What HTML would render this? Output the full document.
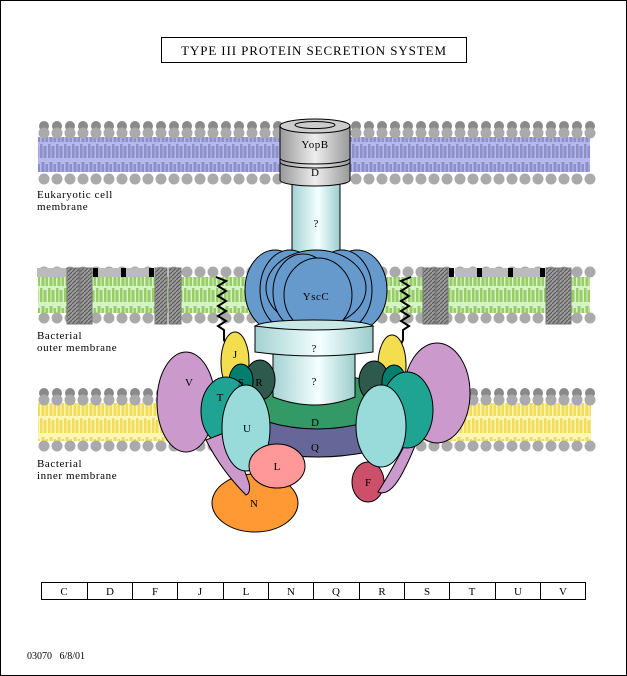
<!DOCTYPE html>
<html><head><style>
body{margin:0;background:#fff}
svg{display:block}
text{font-family:"Liberation Serif",serif;fill:#000}
</style></head><body>
<svg width="627" height="676" viewBox="0 0 627 676" xmlns="http://www.w3.org/2000/svg">
<defs>
<pattern id="lipP" x="0" y="0" width="8" height="36" patternUnits="userSpaceOnUse">
<rect width="8" height="36" fill="#b4b8ec"/>
<path d="M1 0v14M5 2v12M3 18v16M7 20v14" stroke="#8c90c8" stroke-width="3"/>
</pattern>
<pattern id="lipG" x="0" y="0" width="8" height="36" patternUnits="userSpaceOnUse">
<rect width="8" height="36" fill="#d4f4c8"/>
<path d="M1 0v14M5 2v12M3 18v16M7 20v14" stroke="#99cc66" stroke-width="3"/>
</pattern>
<pattern id="lipY" x="0" y="0" width="8" height="38" patternUnits="userSpaceOnUse">
<rect width="8" height="38" fill="#fdf6b4"/>
<path d="M1 0v15M5 2v13M3 19v17M7 21v15" stroke="#f2dc5c" stroke-width="3"/>
</pattern>
<pattern id="hatch" width="4" height="4" patternUnits="userSpaceOnUse">
<rect width="4" height="4" fill="#9a9a9a"/><path d="M0 4L4 0" stroke="#555" stroke-width="1"/>
</pattern>
<linearGradient id="cyl" x1="0" x2="1"><stop offset="0" stop-color="#a4d2d2"/><stop offset="0.55" stop-color="#f4ffff"/><stop offset="1" stop-color="#9ccccc"/></linearGradient>
<linearGradient id="gcyl" x1="0" x2="1"><stop offset="0" stop-color="#999"/><stop offset="0.5" stop-color="#eee"/><stop offset="1" stop-color="#999"/></linearGradient>
</defs>
<rect x="0.5" y="0.5" width="626" height="675" fill="#fff" stroke="#000"/>
<rect x="161.5" y="37.5" width="305" height="25" fill="#fff" stroke="#000"/>
<text x="314" y="55" font-size="13" text-anchor="middle" letter-spacing="0.9">TYPE III PROTEIN SECRETION SYSTEM</text>

<rect x="38" y="137" width="552" height="35" fill="url(#lipP)"/>
<rect x="38" y="277" width="552" height="36" fill="url(#lipG)"/>
<rect x="38" y="403" width="553" height="38" fill="url(#lipY)"/>
<g id="headrows"></g>
<script>
(function(){
var ns="http://www.w3.org/2000/svg",g=document.getElementById("headrows");
function row(y,col,x0,x1,r){for(var x=x0;x<=x1;x+=13){var c=document.createElementNS(ns,"circle");c.setAttribute("cx",x);c.setAttribute("cy",y);c.setAttribute("r",r);c.setAttribute("fill",col);g.appendChild(c);}}
row(126,"#8a8a8a",44,590,5);row(133,"#aaa",44,590,5.5);row(179,"#aaa",44,590,5.5);
row(318,"#aaa",44,590,5.5);row(272,"#aaa",44,590,5.5);
row(393,"#8a8a8a",44,591,5);row(400,"#aaa",44,591,5.5);row(446,"#aaa",44,591,5.5);
})();
</script>
<g fill="#bbb"><rect x="37" y="268" width="30" height="9"/><rect x="98" y="268" width="55" height="9"/><rect x="455" y="268" width="90" height="9"/></g>
<g fill="#000"><rect x="93" y="268" width="5" height="9"/><rect x="121" y="268" width="5" height="9"/><rect x="149" y="268" width="5" height="9"/><rect x="449" y="268" width="5" height="9"/><rect x="477" y="268" width="5" height="9"/><rect x="508" y="268" width="5" height="9"/><rect x="540" y="268" width="5" height="9"/></g>
<g fill="url(#hatch)" stroke="#777"><rect x="67" y="268" width="12" height="56"/><rect x="80" y="268" width="12" height="56"/><rect x="155" y="268" width="12" height="56"/><rect x="169" y="268" width="12" height="56"/><rect x="423" y="268" width="12" height="56"/><rect x="436" y="268" width="12" height="56"/><rect x="546" y="268" width="12" height="56"/><rect x="559" y="268" width="12" height="56"/></g>

<g font-size="11" letter-spacing="0.6">
<text x="37" y="198">Eukaryotic cell</text><text x="37" y="210">membrane</text>
<text x="37" y="339">Bacterial</text><text x="37" y="351">outer membrane</text>
<text x="37" y="467">Bacterial</text><text x="37" y="479">inner membrane</text>
</g>

<path d="M216 277l10 4-8 5 8 5-8 5 8 5-8 5 8 5-8 5 8 5-8 5 6 4v10l4 8" fill="none" stroke="#000" stroke-width="2"/>
<path d="M411 277l-10 4 8 5-8 5 8 5-8 5 8 5-8 5 8 5-8 5 8 5-6 4v10l-4 8" fill="none" stroke="#000" stroke-width="2"/>

<rect x="292" y="180" width="48" height="90" fill="url(#cyl)" stroke="#000"/>
<text x="316" y="227" font-size="11" text-anchor="middle">?</text>
<path d="M280 126v54a35 6 0 0 0 70 0v-54" fill="url(#gcyl)" stroke="#000"/>
<path d="M280 158a35 6 0 0 0 70 0M280 162a35 6 0 0 0 70 0" fill="none" stroke="#000"/>
<ellipse cx="315" cy="126" rx="35" ry="7" fill="#ccc" stroke="#000"/>
<ellipse cx="315" cy="125" rx="20" ry="3.5" fill="none" stroke="#000"/>
<text x="315" y="148" font-size="11" text-anchor="middle" letter-spacing="0.5">YopB</text>
<text x="315" y="176" font-size="11" text-anchor="middle">D</text>

<g fill="#6699cc" stroke="#000">
<ellipse cx="275" cy="290" rx="30" ry="40"/>
<ellipse cx="357" cy="290" rx="30" ry="40"/>
<ellipse cx="290" cy="290" rx="30" ry="40"/>
<ellipse cx="342" cy="290" rx="30" ry="40"/>
<ellipse cx="316" cy="288" rx="50" ry="38"/>
<ellipse cx="303" cy="292" rx="30" ry="38"/>
<ellipse cx="318" cy="295" rx="34" ry="37"/>
</g>
<text x="316" y="300" font-size="11" text-anchor="middle" letter-spacing="0.5">YscC</text>

<path d="M258 383q57 -20 116 0v40q-58 15 -116 0z" fill="#339966" stroke="#000"/>
<path d="M268 422q48 14 100 0v30q-50 10 -100 0z" fill="#666699" stroke="#000"/>
<text x="315" y="426" font-size="11" text-anchor="middle">D</text>
<text x="315" y="451" font-size="11" text-anchor="middle">Q</text>
<path d="M273 350v47q42 16 82 0v-47z" fill="url(#cyl)" stroke="#000"/>
<path d="M255 326v26q60 8 118 0v-26z" fill="url(#cyl)" stroke="#000"/>
<path d="M255 326q10 -6 59 -6q49 0 59 6q-59 8 -118 0z" fill="#c8e8e8" stroke="#000"/>
<text x="314" y="352" font-size="11" text-anchor="middle">?</text>
<text x="314" y="385" font-size="11" text-anchor="middle">?</text>

<g stroke="#000">
<ellipse cx="235" cy="362" rx="14" ry="30" fill="#f5dd50"/>
<ellipse cx="260" cy="380" rx="15" ry="20" fill="#2e5a4e"/>
<ellipse cx="241" cy="381" rx="12" ry="17" fill="#007f6e"/>
<ellipse cx="186" cy="402" rx="29" ry="50" fill="#cc99cc"/>
<ellipse cx="226" cy="411" rx="25" ry="34" fill="#1fa393"/>
<ellipse cx="255" cy="503" rx="43" ry="29" fill="#ff9933"/>
<path d="M206 440q15 30 40 55q5 -2 3 -12q-10 -30 -25 -50z" fill="#cc99cc"/>
<ellipse cx="246" cy="428" rx="24" ry="43" fill="#99dada"/>
<ellipse cx="277" cy="466" rx="28" ry="22" fill="#ff9999"/>
</g>
<text x="189" y="386" font-size="11" text-anchor="middle">V</text>
<text x="235" y="358" font-size="11" text-anchor="middle">J</text>
<text x="241" y="386" font-size="11" text-anchor="middle">S</text>
<text x="259" y="386" font-size="11" text-anchor="middle">R</text>
<text x="220" y="401" font-size="11" text-anchor="middle">T</text>
<text x="247" y="432" font-size="11" text-anchor="middle">U</text>
<text x="277" y="470" font-size="11" text-anchor="middle">L</text>
<text x="254" y="507" font-size="11" text-anchor="middle">N</text>

<g stroke="#000">
<ellipse cx="392" cy="365" rx="14" ry="30" fill="#f5dd50"/>
<ellipse cx="374" cy="381" rx="15" ry="20" fill="#2e5a4e"/>
<ellipse cx="394" cy="382" rx="12" ry="17" fill="#007f6e"/>
<ellipse cx="437" cy="393" rx="33" ry="50" fill="#cc99cc"/>
<ellipse cx="368" cy="482" rx="16" ry="20" fill="#cc5069"/>
<path d="M415 425q-20 40 -37 67q12 5 25 -20q13 -25 18 -45z" fill="#cc99cc"/>
<ellipse cx="407" cy="410" rx="26" ry="38" fill="#1fa393"/>
<ellipse cx="381" cy="426" rx="25" ry="41" fill="#99dada"/>
</g>
<text x="368" y="486" font-size="11" text-anchor="middle">F</text>

<rect x="41.5" y="582.5" width="544" height="17" fill="#fff" stroke="#000"/>
<path d="M87.5 582v18M132.5 582v18M177.5 582v18M223.5 582v18M268.5 582v18M313.5 582v18M359.5 582v18M404.5 582v18M449.5 582v18M495.5 582v18M540.5 582v18" stroke="#000"/>
<g font-size="11" text-anchor="middle">
<text x="64" y="595">C</text><text x="110" y="595">D</text><text x="155" y="595">F</text><text x="200" y="595">J</text><text x="246" y="595">L</text><text x="291" y="595">N</text><text x="336" y="595">Q</text><text x="382" y="595">R</text><text x="427" y="595">S</text><text x="472" y="595">T</text><text x="518" y="595">U</text><text x="563" y="595">V</text>
</g>
<text x="27" y="659" font-size="10" xml:space="preserve" style="white-space:pre">03070   6/8/01</text>
</svg>
</body></html>
